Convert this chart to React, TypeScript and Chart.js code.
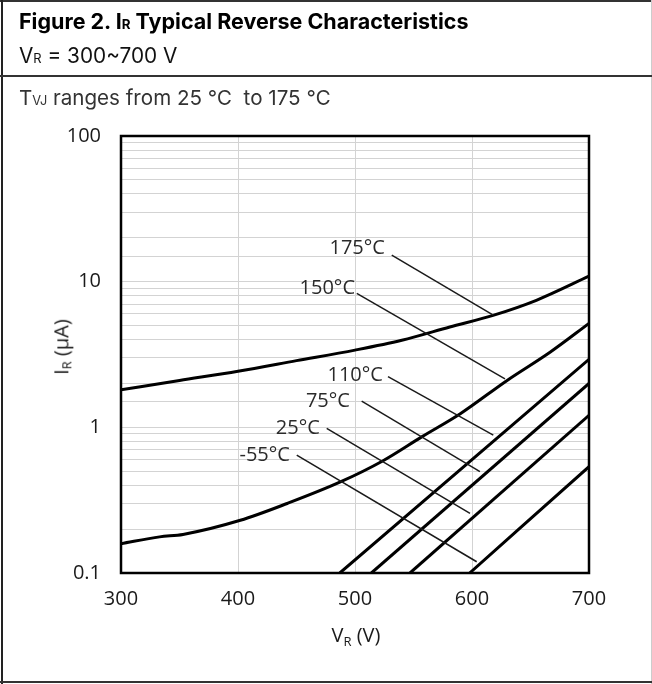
import React, { useEffect, useRef } from 'react';
import { Chart, registerables } from 'chart.js';

Chart.register(...registerables);

// ---------- data ----------
const xTickValues = [300, 400, 500, 600, 700];
const yTickValues = [0.1, 1, 10, 100];
const yTickLabels = ['0.1', '1', '10', '100'];

// 175 °C
const v175 = [300, 350, 400, 450, 500, 540, 581, 618, 655, 700];
const i175 = [1.81, 2.1, 2.43, 2.87, 3.39, 3.96, 4.88, 5.87, 7.45, 10.9];
// 150 °C
const v150 = [300, 333, 353, 402, 442, 487, 524, 557, 590, 630, 667, 700];
const i150 = [0.159, 0.177, 0.184, 0.23, 0.3, 0.42, 0.59, 0.86, 1.24, 2.1, 3.29, 5.17];
// 110 °C
const v110 = [487, 700];
const i110 = [0.1, 2.93];
// 75 °C
const v75 = [514, 700];
const i75 = [0.1, 2.0];
// 25 °C
const v25 = [547, 700];
const i25 = [0.1, 1.21];
// -55 °C
const vM55 = [598, 700];
const iM55 = [0.1, 0.537];

// curve labels (text right edge anchored) and leader lines
const labelTexts = ['175°C', '150°C', '110°C', '75°C', '25°C', '-55°C'];
const labelV = [525.6, 500, 523.9, 495.7, 470, 444.4];
const labelI = [17.0, 9.04, 2.29, 1.515, 0.98, 0.645];
const leaderStartV = [531.4, 501.5, 528.2, 505.7, 475.8, 450.2];
const leaderStartI = [15.2, 8.32, 2.23, 1.515, 0.984, 0.645];
const leaderEndV = [618.2, 628.2, 618.2, 606.8, 598.3, 604];
const leaderEndI = [5.9, 2.15, 0.885, 0.496, 0.257, 0.1195];

const toPts = (xs: number[], ys: number[]) => xs.map((x, i) => ({ x, y: ys[i] }));

const annotPlugin = {
  id: 'annot',
  afterDatasetsDraw(chart: any) {
    const { ctx, chartArea, scales } = chart;
    const x = scales.x;
    const y = scales.y;
    ctx.save();
    ctx.strokeStyle = '#1a1a1a';
    ctx.lineWidth = 1.5;
    for (let i = 0; i < labelTexts.length; i++) {
      ctx.beginPath();
      ctx.moveTo(x.getPixelForValue(leaderStartV[i]), y.getPixelForValue(leaderStartI[i]));
      ctx.lineTo(x.getPixelForValue(leaderEndV[i]), y.getPixelForValue(leaderEndI[i]));
      ctx.stroke();
    }
    ctx.font = '20px "Open Sans"';
    ctx.fillStyle = '#2a2a2a';
    ctx.textAlign = 'right';
    ctx.textBaseline = 'middle';
    for (let i = 0; i < labelTexts.length; i++) {
      ctx.fillText(labelTexts[i], x.getPixelForValue(labelV[i]), y.getPixelForValue(labelI[i]));
    }
    ctx.strokeStyle = '#000';
    ctx.lineWidth = 2.5;
    ctx.strokeRect(chartArea.left, chartArea.top, chartArea.right - chartArea.left, chartArea.bottom - chartArea.top);
    ctx.restore();
  },
};

export default function App() {
  const ref = useRef<HTMLCanvasElement | null>(null);

  useEffect(() => {
    if (!ref.current) return;
    const curve = (xs: number[], ys: number[]) => ({
      data: toPts(xs, ys),
      borderColor: '#000',
      borderWidth: 3,
      pointRadius: 0,
      fill: false,
      cubicInterpolationMode: 'monotone' as const,
    });
    const chart = new Chart(ref.current, {
      type: 'line',
      data: {
        datasets: [
          { label: '175°C', ...curve(v175, i175) },
          { label: '150°C', ...curve(v150, i150) },
          { label: '110°C', ...curve(v110, i110) },
          { label: '75°C', ...curve(v75, i75) },
          { label: '25°C', ...curve(v25, i25) },
          { label: '-55°C', ...curve(vM55, iM55) },
        ],
      },
      options: {
        animation: false,
        responsive: false,
        maintainAspectRatio: false,
        devicePixelRatio: 1,
        events: [],
        layout: { padding: { top: 136, right: 63, left: 0, bottom: 51 } },
        plugins: { legend: { display: false }, tooltip: { enabled: false } },
        scales: {
          x: {
            type: 'linear',
            min: xTickValues[0],
            max: xTickValues[xTickValues.length - 1],
            afterBuildTicks: (s: any) => {
              s.ticks = xTickValues.map((v) => ({ value: v }));
            },
            afterFit: (s: any) => {
              s.height = 60;
            },
            ticks: {
              autoSkip: false,
              maxRotation: 0,
              color: '#1a1a1a',
              padding: 14,
              font: { family: 'Open Sans', size: 20 },
            },
            grid: { color: '#d3d3d3', lineWidth: 1, drawTicks: false },
            border: { display: false },
          },
          y: {
            type: 'logarithmic',
            min: yTickValues[0],
            max: yTickValues[yTickValues.length - 1],
            afterFit: (s: any) => {
              s.width = 121;
            },
            ticks: {
              autoSkip: false,
              color: '#1a1a1a',
              padding: 20,
              font: { family: 'Open Sans', size: 20 },
              callback: (val: any) => {
                const v = Number(val);
                const idx = yTickValues.findIndex((t) => Math.abs(t - v) / t < 1e-6);
                return idx >= 0 ? yTickLabels[idx] : '';
              },
            },
            grid: { color: '#d3d3d3', lineWidth: 1, drawTicks: false },
            border: { display: false },
          },
        },
      },
      plugins: [annotPlugin],
    });
    return () => chart.destroy();
  }, []);

  const head: React.CSSProperties = {
    position: 'absolute',
    left: 19,
    fontFamily: 'Inter, "Open Sans", sans-serif',
    lineHeight: '24px',
    whiteSpace: 'nowrap',
    color: '#111',
  };
  const small: React.CSSProperties = { fontSize: '0.62em' };

  return (
    <div
      style={{
        position: 'absolute',
        left: 0,
        top: 0,
        width: 652,
        height: 684,
        background: '#fff',
        overflow: 'hidden',
      }}
    >
      <canvas ref={ref} width={652} height={684} style={{ position: 'absolute', left: 0, top: 0 }} />
      {/* table borders */}
      <div style={{ position: 'absolute', left: 0, top: 0, width: 652, height: 2, background: '#333' }} />
      <div style={{ position: 'absolute', left: 1, top: 0, width: 2, height: 684, background: '#222' }} />
      <div style={{ position: 'absolute', left: 651, top: 0, width: 1, height: 684, background: '#ccc' }} />
      <div style={{ position: 'absolute', left: 0, top: 75, width: 652, height: 2, background: '#333' }} />
      <div style={{ position: 'absolute', left: 0, top: 681, width: 652, height: 2, background: '#333' }} />
      {/* header texts */}
      <div style={{ ...head, top: 8.5, fontSize: 21.5, fontWeight: 700, color: '#000' }}>
        Figure 2. I<span style={small}>R</span> Typical Reverse Characteristics
      </div>
      <div style={{ ...head, top: 44, fontSize: 20.8 }}>
        V<span style={small}>R</span> = 300~700 V
      </div>
      <div style={{ ...head, top: 86, fontSize: 20.6, color: '#333' }}>
        T<span style={small}>VJ</span> ranges from 25 ℃&nbsp; to 175 ℃
      </div>
      {/* axis titles */}
      <div
        style={{
          position: 'absolute',
          left: 356,
          top: 638,
          transform: 'translate(-50%, -50%)',
          fontFamily: '"Open Sans", sans-serif',
          fontSize: 20,
          lineHeight: '24px',
          color: '#1a1a1a',
          whiteSpace: 'nowrap',
        }}
      >
        V<sub style={{ fontSize: '0.65em', verticalAlign: '-0.25em' }}>R</sub> (V)
      </div>
      <div
        style={{
          position: 'absolute',
          left: 64,
          top: 347,
          transform: 'translate(-50%, -50%) rotate(-90deg)',
          fontFamily: '"Open Sans", sans-serif',
          fontSize: 20,
          lineHeight: '24px',
          color: '#1a1a1a',
          whiteSpace: 'nowrap',
        }}
      >
        I<sub style={{ fontSize: '0.65em', verticalAlign: '-0.25em' }}>R</sub> (μA)
      </div>
    </div>
  );
}
